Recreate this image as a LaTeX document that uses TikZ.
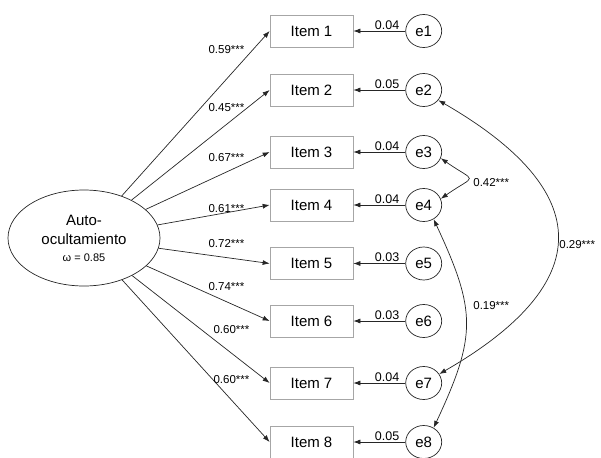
\documentclass[tikz,border=0pt]{standalone}
\usepackage{fontspec}
\setmainfont{Liberation Sans}
\usetikzlibrary{arrows.meta,positioning,shapes.geometric}

\begin{document}
\begin{tikzpicture}[x=1pt, y=1pt, line width=0.7pt, draw=black!85,
  >={Latex[length=7pt,width=5pt]},
  item/.style={rectangle, draw=gray!70, minimum width=83pt, minimum height=32pt, inner sep=1pt, font=\fontsize{15}{17}\selectfont},
  err/.style={ellipse, draw, minimum width=36pt, minimum height=33pt, inner sep=0pt, font=\fontsize{15}{17}\selectfont},
  latent/.style={ellipse, draw, minimum width=152pt, minimum height=96pt, align=center, inner sep=0pt, font=\fontsize{15}{19}\selectfont},
  load/.style={font=\fontsize{11.5}{13}\selectfont, inner sep=1pt},
  resid/.style={font=\fontsize{12.5}{14}\selectfont, inner sep=1.5pt, above},
  cov/.style={font=\fontsize{11.5}{13}\selectfont, inner sep=1pt, anchor=west}]

\useasboundingbox (0,0) rectangle (601,-457);

% latent factor
\node[latent] (factor) at (84,-238) {Auto-\\ocultamiento\\[-2pt]{\fontsize{11}{13}\selectfont ω = 0.85}};

% items and residuals
\foreach \i/\y/\r in {1/31/0.04, 2/90/0.05, 3/152/0.04, 4/205/0.04, 5/263.5/0.03, 6/321/0.03, 7/383/0.04, 8/442/0.05}{
  \node[item] (item\i) at (311.5,-\y) {Item \i};
  \node[err, right=52pt of item\i] (e\i) {e\i};
  \draw[->] (e\i) -- node[resid, pos=0.35] (r\i) {\r} (item\i);
}

% loadings
\foreach \i/\l/\x/\y in {1/0.59/226.5/50, 2/0.45/226.5/108, 3/0.67/226.5/158, 4/0.61/226.5/209, 5/0.72/226.5/244, 6/0.74/226.5/287, 7/0.60/231.5/330, 8/0.60/231.5/380}{
  \draw[->] (factor) -- (item\i.west);
  \node[load] (l\i) at (\x,-\y) {\l***};
}

% covariances
\draw[<->] (e3.-20) to[out=-35, in=35, looseness=2.8] (e4.20);
\node[cov] (c34) at (472,-183) {0.42***};
\draw[<->] (e2.-35) to[out=-30, in=30, looseness=1.7] (e7.30);
\node[cov] (c27) at (558,-245) {0.29***};
\draw[<->] (e4.-55) to[out=-65, in=65, looseness=1.25] (e8.55);
\node[cov] (c48) at (472,-306) {0.19***};
\end{tikzpicture}
\end{document}
